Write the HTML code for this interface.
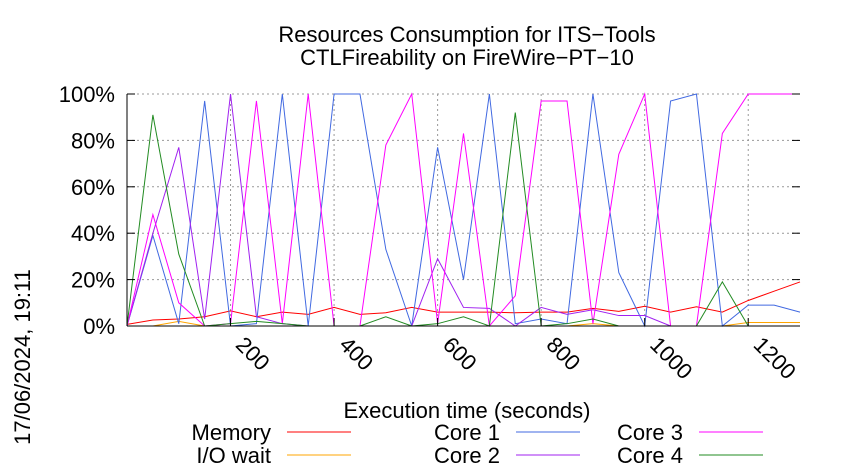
<!DOCTYPE html>
<html><head><meta charset="utf-8"><style>body{margin:0;background:#fff}svg{display:block;font-family:"Liberation Sans",sans-serif}</style></head>
<body>
<svg id="chart" width="850" height="475" viewBox="0 0 850 475">
<text x="467" y="42" font-size="22" text-anchor="middle">Resources Consumption for ITS−Tools</text>
<text x="467" y="65" font-size="22" text-anchor="middle">CTLFireability on FireWire−PT−10</text>
<text transform="translate(30,357) rotate(-90)" font-size="22" text-anchor="middle">17/06/2024, 19:11</text>
<text x="467" y="418" font-size="22" text-anchor="middle">Execution time (seconds)</text>
<g id="grid"></g><g id="series"></g><g id="axes"></g><g id="legend"></g>
</svg>
<script>
const times=[0,50,100,150,200,250,300,350,400,450,500,550,600,650,700,750,800,850,900,950,1000,1050,1100,1150,1200,1250,1300];
const memory=[0.7,2.6,3,4,6.5,4,6,5,8,5,5.7,8,6,6,6,5.7,6,6,7.6,6.3,8.5,6,8.3,6,11,15,19];
const ioWait=[0,0,2,0,0,0,0,0,0,0,0,0,0,0,0,0,0,0,1,0,0,0,0,0,1.5,1.5,1.5];
const core1=[0,39,1,97,0,1,100,0,100,100,33,0,77,20,100,1,3,1,100,23,0,97,100,0,9,9,6];
const core2=[0,40,77,3,100,4,1,0,0,0,0,0,29,8,7.6,0,8,5,7,4.5,4.5,0,0,0,0,0,0];
const core3=[0,48,10,0,1,97,1,100,0,0,78,100,1,83,0,13,97,97,1,74,100,0,0,83,100,100,100];
const core4=[0,91,31,0,1,2,1,0,0,0,4,0,1,4,0,92,0,1,3,0,0,0,0,19,0];
const yTicks=[0,20,40,60,80,100];
const xTicks=[200,400,600,800,1000,1200];
const L=127,R=800,T=94,B=326,XMAX=1300;
const X=t=>L+(R-L)*t/XMAX, Y=v=>B-(B-T)*v/100;
const NS="http://www.w3.org/2000/svg";
function mk(tag,parent,attrs){const e=document.createElementNS(NS,tag);for(const k in attrs)e.setAttribute(k,attrs[k]);parent.appendChild(e);return e;}
const grid=document.getElementById('grid'),axes=document.getElementById('axes'),ser=document.getElementById('series'),leg=document.getElementById('legend');
yTicks.forEach(v=>{
 if(v>0&&v<100){const g=mk('line',grid,{x1:L,x2:R,y1:Y(v),y2:Y(v),stroke:'#999','stroke-dasharray':'2,3'});}
 const t=mk('text',axes,{x:115,y:Y(v)+8,'font-size':22,'text-anchor':'end'});t.textContent=v+'%';
 
 
 mk('line',axes,{x1:L,x2:L+8,y1:Y(v),y2:Y(v),stroke:'#000'});mk('line',axes,{x1:R,x2:R-8,y1:Y(v),y2:Y(v),stroke:'#000'});
});
mk('line',grid,{x1:L,x2:R,y1:T,y2:T,stroke:'#999','stroke-dasharray':'2,3'});
xTicks.forEach(v=>{
 const g=mk('line',grid,{x1:X(v),x2:X(v),y1:T,y2:B,stroke:'#999','stroke-dasharray':'2,3'});
 
 
 mk('line',axes,{x1:X(v),x2:X(v),y1:B,y2:B-8,stroke:'#000'});
 const t=mk('text',axes,{transform:`translate(${X(v)+4},${B+20}) rotate(45)`,'font-size':22});t.textContent=v;
 
 
});
mk('line',axes,{x1:L,x2:L,y1:T,y2:B,stroke:'#000'});
mk('line',axes,{x1:L,x2:R,y1:B,y2:B,stroke:'#000'});
const series=[["Memory",memory,"#ff0000"],["I/O wait",ioWait,"#ffa500"],["Core 1",core1,"#4169e1"],["Core 2",core2,"#a020f0"],["Core 3",core3,"#ff00ff"],["Core 4",core4,"#228b22"]];
const legPos=[[271,432],[271,455],[500,432],[500,455],[683,432],[683,455]];
series.forEach((s,i)=>{
 const pts=s[1].map((v,j)=>X(times[j])+','+Y(v)).join(' ');
 const p=mk('polyline',ser,{points:pts,fill:'none',stroke:s[2],'stroke-width':1});
 
 
 const [lx,ly]=legPos[i];
 const t=mk('text',leg,{x:lx,y:ly+8,'font-size':22,'text-anchor':'end'});t.textContent=s[0];
 
 
 mk('line',leg,{x1:lx+16,x2:lx+80,y1:ly,y2:ly,stroke:s[2]});
});
</script>
</body></html>
